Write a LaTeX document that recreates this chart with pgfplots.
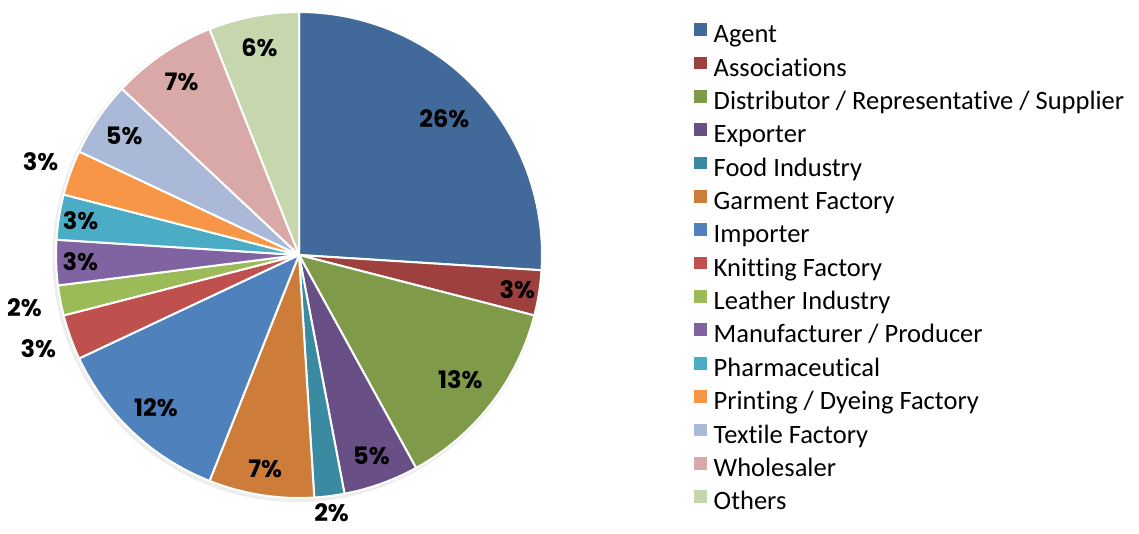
\documentclass[border=0pt]{standalone}
\usepackage{pgfplots}
\pgfplotsset{compat=1.18}
\usepackage{pgfplotstable}
\usepackage{fontspec}
\setmainfont{Carlito}[Ligatures={NoCommon}]
\newfontfamily\labelfont{Poppins}

\definecolor{c1}{HTML}{416A9B}
\definecolor{c2}{HTML}{9E403D}
\definecolor{c3}{HTML}{7F9B49}
\definecolor{c4}{HTML}{685087}
\definecolor{c5}{HTML}{3A8BA1}
\definecolor{c6}{HTML}{CD7C3A}
\definecolor{c7}{HTML}{4F81BD}
\definecolor{c8}{HTML}{C0504D}
\definecolor{c9}{HTML}{9BBB59}
\definecolor{c10}{HTML}{8064A2}
\definecolor{c11}{HTML}{4BACC6}
\definecolor{c12}{HTML}{F79646}
\definecolor{c13}{HTML}{A9B9D7}
\definecolor{c14}{HTML}{D9A9A8}
\definecolor{c15}{HTML}{C6D6AD}

\pgfplotstableread[col sep=comma]{
name,value,lr,col
Agent,26,0.82,c1
Associations,3,0.91,c2
Distributor / Representative / Supplier,13,0.84,c3
Exporter,5,0.88,c4
Food Industry,2,1.07,c5
Garment Factory,7,0.89,c6
Importer,12,0.86,c7
Knitting Factory,3,1.14,c8
Leather Industry,2,1.15,c9
Manufacturer / Producer,3,0.90,c10
Pharmaceutical,3,0.91,c11
Printing / Dyeing Factory,3,1.13,c12
Textile Factory,5,0.87,c13
Wholesaler,7,0.86,c14
Others,6,0.87,c15
}\piedata

\begin{document}
\begin{tikzpicture}
\begin{axis}[
  scale only axis, width=1139pt, height=533pt,
  xmin=0, xmax=1139, ymin=0, ymax=533,
  hide axis, clip=false,
  legend image code/.code={\fill[#1, draw=none] (0pt,1.3pt) rectangle (12.7pt,14pt);},
  legend style={at={(axis cs:694,509.7)}, anchor=north west, draw=none, fill=none,
    inner sep=0pt, outer sep=0pt, row sep=7.85pt, column sep=7pt,
    font=\fontsize{26.5}{30}\selectfont,
    nodes={inner sep=0pt, text height=17pt, text depth=6pt}},
  legend cell align=left,
]
\path (axis cs:0,0) rectangle (axis cs:1139,533);
\fill[black!7] (axis cs:297.5,276) circle[radius=245pt];
\pgfplotstablegetrowsof{\piedata}
\pgfmathtruncatemacro\nrows{\pgfplotsretval-1}
\xdef\cum{0}
\foreach \i in {0,...,\nrows}{
  \pgfplotstablegetelem{\i}{value}\of\piedata \let\v\pgfplotsretval
  \pgfplotstablegetelem{\i}{col}\of\piedata \let\c\pgfplotsretval
  \pgfmathsetmacro\sa{90-3.6*\cum}
  \pgfmathsetmacro\ea{\sa-3.6*\v}
  \edef\tmp{\noexpand\fill[\c, draw=white, line width=2pt, line join=round]
    (axis cs:299,278) -- ++(\sa:243pt) arc[start angle=\sa, end angle=\ea, radius=243pt] -- cycle;}
  \tmp
  \pgfmathsetmacro\newcum{\cum+\v}\xdef\cum{\newcum}
}
\xdef\cum{0}
\foreach \i in {0,...,\nrows}{
  \pgfplotstablegetelem{\i}{value}\of\piedata \let\v\pgfplotsretval
  \pgfplotstablegetelem{\i}{lr}\of\piedata \let\lr\pgfplotsretval
  \pgfmathsetmacro\sa{90-3.6*\cum}
  \pgfmathsetmacro\ma{\sa-1.8*\v}
  \pgfmathsetmacro\lrad{\lr*243}
  \edef\tmp{\noexpand\path (axis cs:299,278) ++(\ma:\lrad pt) node[font=\noexpand\labelfont\noexpand\bfseries\noexpand\fontsize{24}{27}\noexpand\selectfont, inner sep=0pt] {\v\noexpand\%};}
  \tmp
  \pgfmathsetmacro\newcum{\cum+\v}\xdef\cum{\newcum}
}
\addlegendimage{fill=c1}\addlegendentry{Agent}
\addlegendimage{fill=c2}\addlegendentry{Associations}
\addlegendimage{fill=c3}\addlegendentry{Distributor / Representative / Supplier}
\addlegendimage{fill=c4}\addlegendentry{Exporter}
\addlegendimage{fill=c5}\addlegendentry{Food Industry}
\addlegendimage{fill=c6}\addlegendentry{Garment Factory}
\addlegendimage{fill=c7}\addlegendentry{Importer}
\addlegendimage{fill=c8}\addlegendentry{Knitting Factory}
\addlegendimage{fill=c9}\addlegendentry{Leather Industry}
\addlegendimage{fill=c10}\addlegendentry{Manufacturer / Producer}
\addlegendimage{fill=c11}\addlegendentry{Pharmaceutical}
\addlegendimage{fill=c12}\addlegendentry{Printing / Dyeing Factory}
\addlegendimage{fill=c13}\addlegendentry{Textile Factory}
\addlegendimage{fill=c14}\addlegendentry{Wholesaler}
\addlegendimage{fill=c15}\addlegendentry{Others}
\end{axis}
\end{tikzpicture}
\end{document}
